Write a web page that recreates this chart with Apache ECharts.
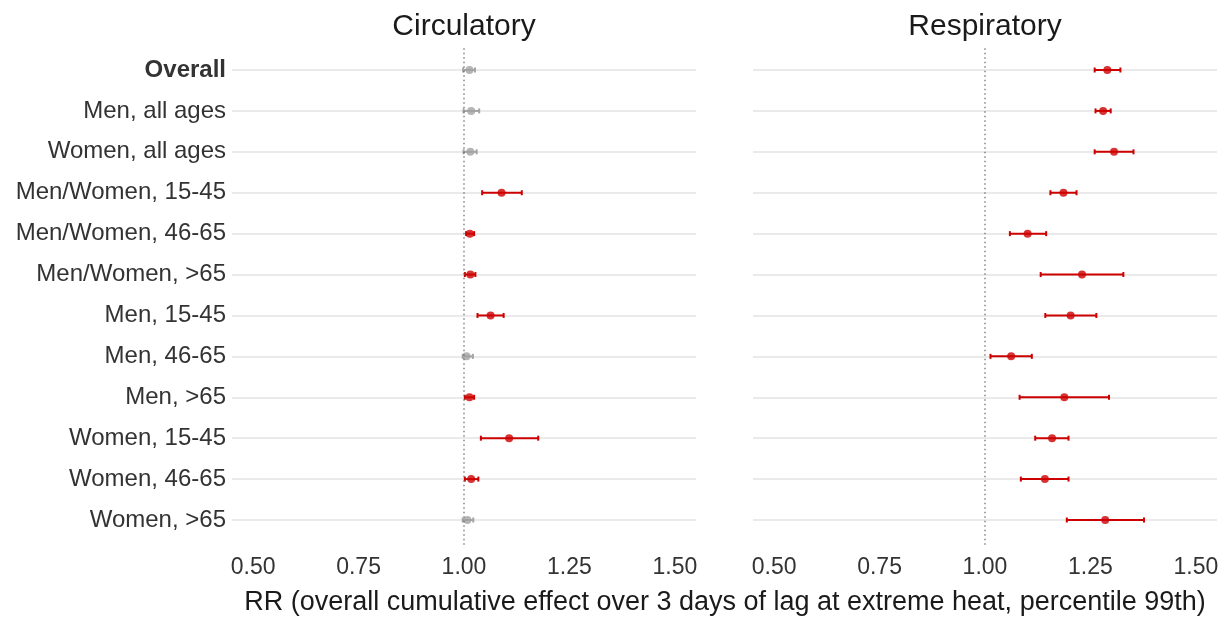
<!DOCTYPE html>
<html>
<head>
<meta charset="utf-8">
<script src="https://cdn.jsdelivr.net/npm/echarts@6/dist/echarts.min.js"></script>
<style>
  html, body { margin: 0; padding: 0; background: #fff; }
  #chart { width: 1228px; height: 622px; }
</style>
</head>
<body>
<div id="chart"></div>
<script>
// subgroups, top to bottom
const categories = ['Overall', 'Men, all ages', 'Women, all ages', 'Men/Women, 15-45',
  'Men/Women, 46-65', 'Men/Women, >65', 'Men, 15-45', 'Men, 46-65', 'Men, >65',
  'Women, 15-45', 'Women, 46-65', 'Women, >65'];

// circulatory RR with 95% CI
const circEst  = [1.013, 1.017, 1.015, 1.089, 1.014, 1.015, 1.063, 1.006, 1.013, 1.107, 1.017, 1.008];
const circLow  = [0.998, 0.999, 0.999, 1.043, 1.005, 1.002, 1.032, 0.997, 1.002, 1.040, 1.002, 0.997];
const circHigh = [1.026, 1.036, 1.030, 1.137, 1.024, 1.027, 1.094, 1.021, 1.024, 1.176, 1.034, 1.022];

// respiratory RR with 95% CI
const respEst  = [1.290, 1.280, 1.306, 1.186, 1.101, 1.230, 1.203, 1.062, 1.188, 1.159, 1.142, 1.285];
const respLow  = [1.260, 1.262, 1.260, 1.155, 1.059, 1.132, 1.143, 1.013, 1.082, 1.119, 1.085, 1.194];
const respHigh = [1.321, 1.298, 1.352, 1.217, 1.145, 1.328, 1.264, 1.111, 1.294, 1.198, 1.198, 1.377];

const xTicks = [0.5, 0.75, 1.0, 1.25, 1.5];
const refValue = 1;

const RED = '#CD0000';
const GREY = '#A3A3A3';
const TEXT = '#333333';
const FONT = '"Liberation Sans", Arial, sans-serif';

const colorOf = (lo, hi) => (lo > refValue || hi < refValue) ? RED : GREY;

function errorBars(low, high, xi, yi) {
  return {
    type: 'custom',
    xAxisIndex: xi,
    yAxisIndex: yi,
    silent: true,
    data: categories.map((c, i) => [i, low[i], high[i]]),
    renderItem: (params, api) => {
      const i = api.value(0);
      const a = api.coord([api.value(1), i]);
      const b = api.coord([api.value(2), i]);
      const col = colorOf(api.value(1), api.value(2));
      const style = { stroke: col, lineWidth: 2 };
      return {
        type: 'group',
        children: [
          { type: 'line', shape: { x1: a[0], y1: a[1], x2: b[0], y2: b[1] }, style },
          { type: 'line', shape: { x1: a[0], y1: a[1] - 2.5, x2: a[0], y2: a[1] + 2.5 }, style },
          { type: 'line', shape: { x1: b[0], y1: b[1] - 2.5, x2: b[0], y2: b[1] + 2.5 }, style }
        ]
      };
    }
  };
}

function points(est, low, high, xi, yi) {
  return {
    type: 'scatter',
    xAxisIndex: xi,
    yAxisIndex: yi,
    symbolSize: 8,
    silent: true,
    data: categories.map((c, i) => ({
      value: [est[i], i],
      itemStyle: { color: colorOf(low[i], high[i]) }
    }))
  };
}

function refLine(xi, yi) {
  return {
    type: 'line',
    xAxisIndex: xi,
    yAxisIndex: yi,
    clip: false,
    silent: true,
    symbol: 'none',
    data: [[refValue, -0.055], [refValue, 1.055]],
    lineStyle: { color: '#666', width: 1.2, type: [1.5, 3] }
  };
}

function catAxis(gridIndex, showLabels) {
  return {
    type: 'category',
    gridIndex,
    data: categories,
    inverse: true,
    boundaryGap: false,
    axisLine: { show: false },
    axisTick: { show: false },
    splitLine: { show: true, interval: 0, lineStyle: { color: '#E3E3E3', width: 1.6 } },
    axisLabel: {
      show: showLabels,
      interval: 0,
      margin: 6,
      fontSize: 24,
      fontFamily: FONT,
      color: TEXT,
      formatter: v => v === 'Overall' ? '{b|' + v + '}' : v,
      rich: { b: { fontWeight: 'bold', fontSize: 24, fontFamily: FONT, color: TEXT } }
    }
  };
}

function refAxis(gridIndex) {
  return { type: 'value', gridIndex, min: 0, max: 1, show: false };
}

function valAxis(gridIndex) {
  return {
    type: 'value',
    gridIndex,
    min: 0.45,
    max: 1.55,
    axisLine: { show: false },
    axisTick: { show: false },
    splitLine: { show: false },
    axisLabel: {
      customValues: xTicks,
      margin: 36,
      fontSize: 23,
      fontFamily: FONT,
      color: TEXT,
      formatter: v => v.toFixed(2)
    }
  };
}

const chart = echarts.init(document.getElementById('chart'), null, { renderer: 'canvas' });
chart.setOption({
  animation: false,
  backgroundColor: '#fff',
  grid: [
    { left: 232, width: 464, top: 70, height: 450 },
    { left: 753, width: 464, top: 70, height: 450 }
  ],
  xAxis: [valAxis(0), valAxis(1)],
  yAxis: [catAxis(0, true), catAxis(1, false), refAxis(0), refAxis(1)],
  graphic: [
    { type: 'text', x: 464, y: 27, style: { text: 'Circulatory', font: '30px ' + FONT, fill: '#1a1a1a', textAlign: 'center', textVerticalAlign: 'middle' } },
    { type: 'text', x: 985, y: 27, style: { text: 'Respiratory', font: '30px ' + FONT, fill: '#1a1a1a', textAlign: 'center', textVerticalAlign: 'middle' } },
    { type: 'text', x: 725, y: 603, style: { text: 'RR (overall cumulative effect over 3 days of lag at extreme heat, percentile 99th)', font: '27px ' + FONT, fill: '#1a1a1a', textAlign: 'center', textVerticalAlign: 'middle' } }
  ],
  series: [
    refLine(0, 2),
    refLine(1, 3),
    errorBars(circLow, circHigh, 0, 0),
    errorBars(respLow, respHigh, 1, 1),
    points(circEst, circLow, circHigh, 0, 0),
    points(respEst, respLow, respHigh, 1, 1)
  ]
});
</script>
</body>
</html>
